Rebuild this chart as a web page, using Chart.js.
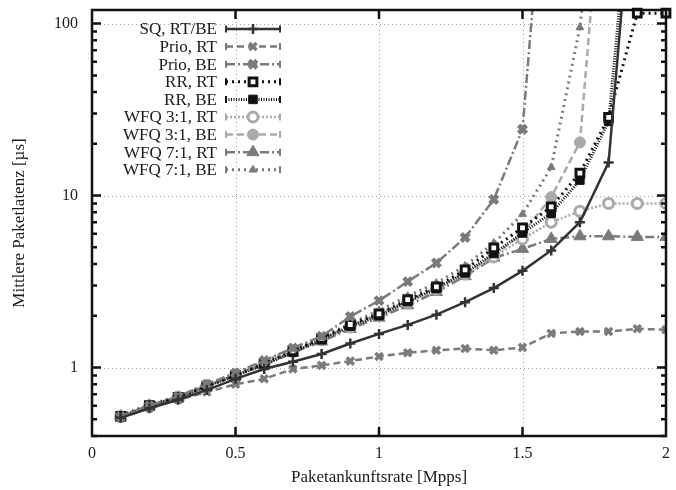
<!DOCTYPE html>
<html>
<head>
<meta charset="utf-8">
<script src="https://cdn.jsdelivr.net/npm/chart.js@4.4.1/dist/chart.umd.min.js"></script>
<style>
  body { margin: 0; background: #fff; }
  canvas { display: block; }
</style>
</head>
<body>
<canvas id="latencyChart" width="676" height="490"></canvas>
<script>
//#  Data (arrival rate in Mpps, mean latency in µs)
const rates = [0.1, 0.2, 0.3, 0.4, 0.5, 0.6, 0.7, 0.8, 0.9, 1.0, 1.1, 1.2, 1.3, 1.4, 1.5, 1.6, 1.7, 1.8, 1.9, 2.0];

const sqRtBe = [0.51, 0.58, 0.65, 0.74, 0.86, 0.98, 1.08, 1.2, 1.38, 1.57, 1.77, 2.03, 2.4, 2.9, 3.65, 4.8, 7.0, 15.6, 1400, null];
const prioRt = [0.51, 0.58, 0.65, 0.72, 0.8, 0.86, 0.98, 1.03, 1.09, 1.16, 1.22, 1.26, 1.29, 1.26, 1.31, 1.58, 1.62, 1.62, 1.68, 1.66];
const prioBe = [0.52, 0.6, 0.68, 0.8, 0.93, 1.1, 1.3, 1.52, 1.98, 2.45, 3.16, 4.06, 5.7, 9.5, 24.3, 2500, null, null, null, null];
const rrRt = [0.52, 0.6, 0.67, 0.78, 0.9, 1.05, 1.25, 1.48, 1.78, 2.05, 2.48, 2.95, 3.7, 4.97, 6.5, 8.6, 13.5, 28.5, 115, 115];
const rrBe = [0.52, 0.6, 0.67, 0.78, 0.9, 1.04, 1.23, 1.45, 1.74, 2.0, 2.42, 2.88, 3.55, 4.6, 6.06, 7.9, 12.3, 27, 1500, null];
const wfq31Rt = [0.52, 0.6, 0.67, 0.78, 0.9, 1.05, 1.24, 1.45, 1.72, 2.0, 2.4, 2.85, 3.5, 4.4, 5.6, 7.0, 8.1, 9.0, 9.0, 9.0];
const wfq31Be = [0.52, 0.6, 0.67, 0.78, 0.91, 1.06, 1.25, 1.47, 1.75, 2.05, 2.45, 2.9, 3.55, 4.5, 6.0, 9.8, 20.4, 2000, null, null];
const wfq71Rt = [0.52, 0.6, 0.67, 0.78, 0.9, 1.04, 1.22, 1.42, 1.68, 1.95, 2.3, 2.75, 3.4, 4.34, 4.9, 5.6, 5.8, 5.8, 5.75, 5.75];
const wfq71Be = [0.53, 0.61, 0.68, 0.8, 0.92, 1.08, 1.28, 1.5, 1.8, 2.15, 2.6, 3.1, 3.9, 5.3, 7.8, 14.6, 95, 3000, null, null];

const seriesLabels = ["SQ, RT/BE", "Prio, RT", "Prio, BE", "RR, RT", "RR, BE", "WFQ 3:1, RT", "WFQ 3:1, BE", "WFQ 7:1, RT", "WFQ 7:1, BE"];

const xTicks = [0, 0.5, 1, 1.5, 2];
const yMajorTicks = [1, 10, 100];
const yAllTicks = [0.4, 0.5, 0.6, 0.7, 0.8, 0.9, 1, 2, 3, 4, 5, 6, 7, 8, 9, 10, 20, 30, 40, 50, 60, 70, 80, 90, 100];

const serif = "'Liberation Serif', 'DejaVu Serif', serif";
const textColor = "#1a1a1a";

const toPoints = (values) => rates.map((x, i) => ({ x: x, y: values[i] }));

//#  Builds one gnuplot-like series
const series = function (label, values, color, dash, width, style, radius, fill, border, pointWidth) {
  return {
    label: label,
    data: toPoints(values),
    borderColor: color,
    borderDash: dash,
    borderWidth: width,
    pointStyle: style,
    pointRadius: radius,
    pointHoverRadius: radius,
    pointBackgroundColor: fill,
    pointBorderColor: border,
    pointBorderWidth: pointWidth,
    tension: 0,
    fill: false,
  };
};

const datasets = [
  series(seriesLabels[0], sqRtBe, "#333333", [], 2.5, "cross", 5, "#333333", "#333333", 2.5),
  series(seriesLabels[1], prioRt, "#7a7a7a", [7, 4], 2.5, "crossRot", 5, "#7a7a7a", "#7a7a7a", 3.5),
  series(seriesLabels[2], prioBe, "#7a7a7a", [9, 3, 2, 3], 2.5, "crossRot", 5.5, "#7a7a7a", "#7a7a7a", 4.5),
  series(seriesLabels[3], rrRt, "#111111", [2, 4], 3, "rect", 5.5, "#ffffff", "#111111", 3),
  series(seriesLabels[4], rrBe, "#111111", [1, 1.5], 3, "rect", 6, "#111111", "#111111", 1),
  series(seriesLabels[5], wfq31Rt, "#aaaaaa", [2, 2], 2.5, "circle", 5, "#ffffff", "#aaaaaa", 3),
  series(seriesLabels[6], wfq31Be, "#aaaaaa", [7, 4], 2.5, "circle", 5.5, "#aaaaaa", "#aaaaaa", 1),
  series(seriesLabels[7], wfq71Rt, "#7a7a7a", [9, 3, 2, 3], 2.5, "triangle", 7, "#7a7a7a", "#7a7a7a", 1),
  series(seriesLabels[8], wfq71Be, "#7a7a7a", [2, 4], 3, "triangle", 4.5, "#7a7a7a", "#7a7a7a", 1),
];

// points sitting on the top border should not be cut off
datasets[3].clip = { left: 8, top: 8, right: 10, bottom: 0 };

//#  Dotted grid, frame and inward tick marks like gnuplot
const gnuplotFrame = {
  id: "gnuplotFrame",
  beforeDatasetsDraw(chart) {
    const { ctx, chartArea: a, scales } = chart;
    ctx.save();
    ctx.strokeStyle = "#a0a0a0";
    ctx.lineWidth = 1;
    ctx.setLineDash([1, 3]);
    xTicks.slice(1, -1).forEach((v) => {
      const px = Math.round(scales.x.getPixelForValue(v)) + 0.5;
      ctx.beginPath();
      ctx.moveTo(px, a.top);
      ctx.lineTo(px, a.bottom);
      ctx.stroke();
    });
    yMajorTicks.forEach((v) => {
      const py = Math.round(scales.y.getPixelForValue(v)) + 0.5;
      ctx.beginPath();
      ctx.moveTo(a.left, py);
      ctx.lineTo(a.right, py);
      ctx.stroke();
    });
    ctx.restore();
  },
  afterDatasetsDraw(chart) {
    const { ctx, chartArea: a, scales } = chart;
    ctx.save();
    ctx.setLineDash([]);
    ctx.strokeStyle = "#111111";
    ctx.lineWidth = 2.5;
    ctx.strokeRect(a.left, a.top, a.right - a.left, a.bottom - a.top);

    yAllTicks.forEach((v) => {
      const py = scales.y.getPixelForValue(v);
      const len = yMajorTicks.includes(v) ? 9 : 5;
      ctx.beginPath();
      ctx.moveTo(a.left, py);
      ctx.lineTo(a.left + len, py);
      ctx.moveTo(a.right, py);
      ctx.lineTo(a.right - len, py);
      ctx.stroke();
    });
    xTicks.slice(1, -1).forEach((v) => {
      const px = scales.x.getPixelForValue(v);
      ctx.beginPath();
      ctx.moveTo(px, a.bottom);
      ctx.lineTo(px, a.bottom - 9);
      ctx.moveTo(px, a.top);
      ctx.lineTo(px, a.top + 9);
      ctx.stroke();
    });
    ctx.restore();
  },
};

//#  Key inside the plot: label right-aligned, line sample with marker to its right
const insideKey = {
  id: "insideKey",
  afterDraw(chart) {
    const { ctx } = chart;
    const textRight = 217;
    const sampleLeft = 226;
    const sampleRight = 280;
    ctx.save();
    ctx.font = "17px " + serif;
    ctx.textAlign = "right";
    ctx.textBaseline = "middle";
    chart.data.datasets.forEach((ds, i) => {
      const rowY = 29 + i * 17.6;
      ctx.fillStyle = textColor;
      ctx.fillText(ds.label, textRight, rowY + 1);

      ctx.strokeStyle = ds.borderColor;
      ctx.lineWidth = ds.borderWidth;
      ctx.setLineDash(ds.borderDash);
      ctx.beginPath();
      ctx.moveTo(sampleLeft, rowY);
      ctx.lineTo(sampleRight, rowY);
      ctx.stroke();

      ctx.setLineDash([]);
      ctx.lineWidth = 2;
      ctx.beginPath();
      ctx.moveTo(sampleLeft, rowY - 3.5);
      ctx.lineTo(sampleLeft, rowY + 3.5);
      ctx.moveTo(sampleRight, rowY - 3.5);
      ctx.lineTo(sampleRight, rowY + 3.5);
      ctx.stroke();

      ctx.fillStyle = ds.pointBackgroundColor;
      ctx.strokeStyle = ds.pointBorderColor;
      ctx.lineWidth = ds.pointBorderWidth;
      Chart.helpers.drawPoint(ctx, { pointStyle: ds.pointStyle, radius: ds.pointRadius, rotation: 0, borderWidth: ds.pointBorderWidth }, (sampleLeft + sampleRight) / 2, rowY);
    });
    ctx.restore();
  },
};

//* Chart configuration
const config = {
  type: "line",
  data: { datasets: datasets },
  options: {
    responsive: false,
    animation: false,
    devicePixelRatio: 1,
    layout: { padding: { left: 0, right: 8, top: 10, bottom: 0 } },
    plugins: {
      legend: { display: false },
      tooltip: { enabled: false },
    },
    scales: {
      x: {
        type: "linear",
        min: 0,
        max: 2,
        afterBuildTicks: (scale) => {
          scale.ticks = xTicks.map((v) => ({ value: v }));
        },
        afterFit: (scale) => {
          scale.height = 54;
          scale.paddingLeft = 0;
          scale.paddingRight = 0;
        },
        grid: { display: false, drawTicks: false },
        border: { display: false },
        ticks: {
          color: textColor,
          padding: 8,
          maxRotation: 0,
          autoSkip: false,
          font: { family: serif, size: 16 },
          callback: (value) => String(value),
        },
        title: {
          display: true,
          text: "Paketankunftsrate [Mpps]",
          color: textColor,
          padding: { top: 0, bottom: 2 },
          font: { family: serif, size: 17 },
        },
      },
      y: {
        type: "logarithmic",
        min: 0.4,
        max: 120,
        afterBuildTicks: (scale) => {
          scale.ticks = yAllTicks.map((v) => ({ value: v }));
        },
        afterFit: (scale) => {
          scale.width = 92;
          scale.paddingTop = 0;
          scale.paddingBottom = 0;
        },
        grid: { display: false, drawTicks: false },
        border: { display: false },
        ticks: {
          color: textColor,
          padding: 14,
          autoSkip: false,
          font: { family: serif, size: 16 },
          callback: (value) => (yMajorTicks.includes(value) ? String(value) : ""),
        },
        title: {
          display: true,
          text: "Mittlere Paketlatenz [µs]",
          color: textColor,
          padding: { top: 9, bottom: 0 },
          font: { family: serif, size: 17 },
        },
      },
    },
  },
  plugins: [gnuplotFrame, insideKey],
};

//* Displaying Chart
const ctx = document.getElementById("latencyChart").getContext("2d");
const latencyChart = new Chart(ctx, config);
</script>
</body>
</html>
